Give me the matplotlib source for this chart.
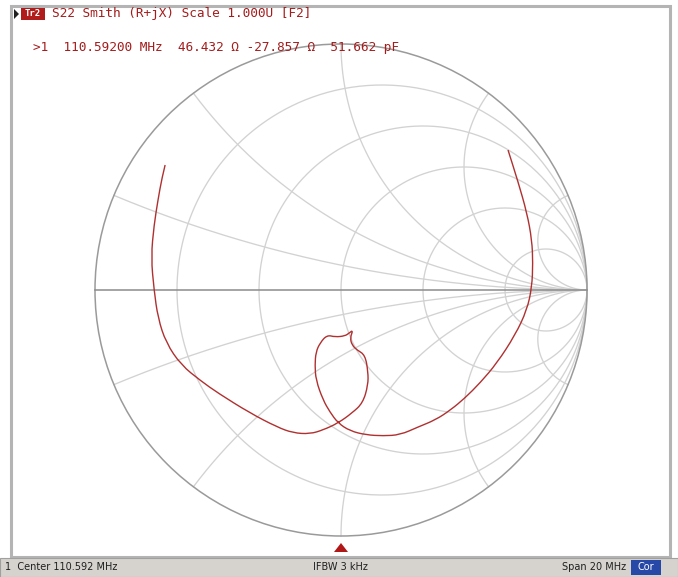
import numpy as np
import matplotlib
matplotlib.use("Agg")
import matplotlib.pyplot as plt
from matplotlib.patches import Rectangle, Polygon, Circle, PathPatch
from matplotlib.path import Path

# ---- data ----
title_text = "S22 Smith (R+jX) Scale 1.000U [F2]"
marker_text = ">1  110.59200 MHz  46.432 Ω -27.857 Ω  51.662 pF"
status_left = "1  Center 110.592 MHz"
status_mid = "IFBW 3 kHz"
status_right = "Span 20 MHz"
resistance_values = [0.2, 0.5, 1.0, 2.0, 5.0]
reactance_values = [0.2, 0.5, 1.0, 2.0, 5.0]
# trace in reflection-coefficient plane (Gamma real, Gamma imag)
gamma_re = [-0.715, -0.728, -0.744, -0.760, -0.772, -0.760, -0.744, -0.711,
            -0.650, -0.569, -0.500, -0.370, -0.260, -0.195, -0.126, -0.073,
            -0.012, 0.045, 0.089, 0.110, 0.110, 0.098, 0.065, 0.045, 0.037,
            0.049, 0.033, 0.016, -0.024, -0.057, -0.085, -0.102, -0.106,
            -0.102, -0.073, -0.045, -0.012, 0.037, 0.102, 0.171, 0.240,
            0.313, 0.384, 0.445, 0.504, 0.565, 0.634, 0.708, 0.756, 0.776,
            0.780, 0.776, 0.756, 0.720, 0.679]
gamma_im = [0.508, 0.455, 0.366, 0.264, 0.134, 0.000, -0.114, -0.215,
            -0.305, -0.370, -0.419, -0.500, -0.557, -0.581, -0.585, -0.569,
            -0.541, -0.500, -0.459, -0.386, -0.333, -0.264, -0.244, -0.224,
            -0.195, -0.163, -0.175, -0.187, -0.191, -0.183, -0.215, -0.252,
            -0.305, -0.366, -0.447, -0.496, -0.541, -0.573, -0.589, -0.593,
            -0.589, -0.557, -0.528, -0.488, -0.439, -0.378, -0.297, -0.183,
            -0.081, 0.012, 0.110, 0.203, 0.313, 0.439, 0.569]

# ---- figure ----
W, H = 678, 577
cx, cy, R = 341.0, 290.0, 246.0
fig = plt.figure(figsize=(W / 100, H / 100), dpi=100)
ax = fig.add_axes([0, 0, 1, 1])
ax.set_xlim(-cx / R, (W - cx) / R)
ax.set_ylim((cy - H) / R, cy / R)
ax.axis("off")

def px(x, y):
    return ((x - cx) / R, (cy - y) / R)

# frame
frame_col = "#b4b4b4"
x0, y0 = px(11, 6)
x1, y1 = px(670, 557)
ax.add_patch(Rectangle((x0, y1), x1 - x0, y0 - y1, fill=False,
                       ec=frame_col, lw=2.2, zorder=1))
# status bar
sx0, sy0 = px(0, 577)
sx1, sy1 = px(678, 558)
ax.add_patch(Rectangle((sx0, sy0), sx1 - sx0, sy1 - sy0, fc="#d6d3ce",
                       ec="#a0a0a0", lw=0.8, zorder=2))

# grid
grid_col = "#d2d2d2"
big = np.concatenate([-np.logspace(-3, 4, 800)[::-1], np.logspace(-3, 4, 800)])
for r in resistance_values:
    z = r + 1j * big
    g = (z - 1) / (z + 1)
    ax.plot(g.real, g.imag, color=grid_col, lw=0.95, zorder=3)
rr = np.concatenate([[0], np.logspace(-3, 4, 1200)])
for xv in reactance_values:
    for s in (1, -1):
        z = rr + 1j * s * xv
        g = (z - 1) / (z + 1)
        ax.plot(g.real, g.imag, color=grid_col, lw=0.95, zorder=3)
ax.add_patch(Circle((0, 0), 1.0, fill=False, ec="#9a9a9a", lw=1.1, zorder=4))
ax.plot([-1, 1], [0, 0], color="#8c8c8c", lw=1.1, zorder=4)

# trace, drawn as a smooth quadratic path through the read points
pts = np.column_stack([gamma_re, gamma_im])
verts = [pts[0]]
codes = [Path.MOVETO]
for i in range(1, len(pts) - 1):
    mid = (pts[i] + pts[i + 1]) / 2
    verts += [pts[i], mid]
    codes += [Path.CURVE3, Path.CURVE3]
verts.append(pts[-1])
codes.append(Path.LINETO)
ax.add_patch(PathPatch(Path(verts, codes), fill=False, ec="#b03030",
                       lw=1.0, zorder=5))

# marker triangle
tri = [px(334, 552), px(348, 552), px(341, 543)]
ax.add_patch(Polygon(tri, closed=True, fc="#b01818", ec="none", zorder=6))

# header
red = "#a41c1c"
mono = "DejaVu Sans Mono"
ax.add_patch(Polygon([px(14, 9), px(14, 19), px(19, 14)], closed=True,
                     fc="#202020", ec="none", zorder=6))
bx0, by0 = px(21, 20)
bx1, by1 = px(45, 8)
ax.add_patch(Rectangle((bx0, by0), bx1 - bx0, by1 - by0, fc="#b01c1c",
                       ec="none", zorder=6))
ax.text(*px(33, 14), "Tr2", color="white", fontsize=6.5, ha="center",
        va="center", family=mono, weight="bold", zorder=7)
ax.text(*px(52, 14), title_text, color=red, fontsize=9.2, ha="left",
        va="center", family=mono, zorder=7)
ax.text(*px(33, 47), marker_text, color=red, fontsize=9.2, ha="left",
        va="center", family=mono, zorder=7)

# status text
ax.text(*px(5, 567), status_left, color="#202020", fontsize=7, ha="left",
        va="center", family="DejaVu Sans", zorder=7)
ax.text(*px(340, 567), status_mid, color="#202020", fontsize=7, ha="center",
        va="center", family="DejaVu Sans", zorder=7)
ax.text(*px(626, 567), status_right, color="#202020", fontsize=7, ha="right",
        va="center", family="DejaVu Sans", zorder=7)
cbx0, cby0 = px(631, 575)
cbx1, cby1 = px(661, 560)
ax.add_patch(Rectangle((cbx0, cby0), cbx1 - cbx0, cby1 - cby0, fc="#2848a8",
                       ec="none", zorder=6))
ax.text(*px(646, 567.5), "Cor", color="white", fontsize=7, ha="center",
        va="center", family="DejaVu Sans", zorder=7)

fig.savefig("out.png", dpi=100)
